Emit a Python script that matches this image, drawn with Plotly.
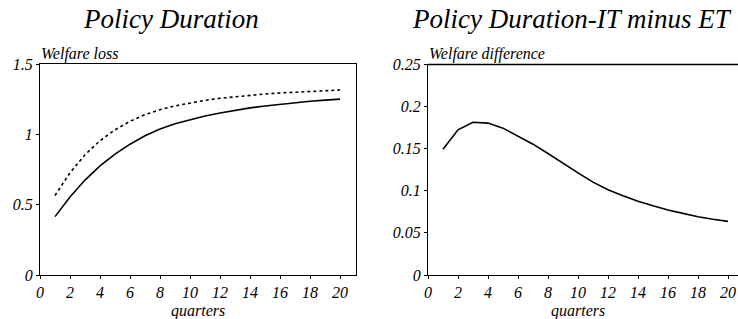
import plotly.graph_objects as go

quarters = list(range(1, 21))
loss_et = [0.415, 0.555, 0.675, 0.775, 0.86, 0.93, 0.99, 1.038, 1.075, 1.105,
           1.13, 1.152, 1.171, 1.188, 1.202, 1.214, 1.225, 1.235, 1.243, 1.25]
loss_it = [0.565, 0.727, 0.855, 0.955, 1.032, 1.093, 1.14, 1.175, 1.202, 1.224,
           1.242, 1.256, 1.268, 1.278, 1.287, 1.294, 1.30, 1.305, 1.31, 1.315]
welfare_diff = [0.149, 0.172, 0.181, 0.180, 0.174, 0.165, 0.155, 0.144, 0.132, 0.121,
                0.110, 0.101, 0.094, 0.0875, 0.082, 0.077, 0.073, 0.069, 0.066, 0.0635]

left_yticks = [0, 0.5, 1, 1.5]
right_yticks = [0, 0.05, 0.1, 0.15, 0.2, 0.25]
xticks = list(range(0, 21, 2))

W, H = 738, 319
FONT = "Liberation Serif"

def px_x(p):
    return p / W

def px_y(p):
    return 1 - p / H

fig = go.Figure()
fig.add_trace(go.Scatter(x=quarters, y=loss_it, mode="lines",
                         line=dict(color="black", width=1.6, dash="3px,3px"),
                         xaxis="x", yaxis="y", showlegend=False))
fig.add_trace(go.Scatter(x=quarters, y=loss_et, mode="lines",
                         line=dict(color="black", width=1.6),
                         xaxis="x", yaxis="y", showlegend=False))
fig.add_trace(go.Scatter(x=quarters, y=welfare_diff, mode="lines",
                         line=dict(color="black", width=1.6),
                         xaxis="x2", yaxis="y2", showlegend=False))

tickfont = dict(family=FONT, size=16, color="black", style="italic")
common_x = dict(tickvals=xticks, ticks="outside", ticklen=3, tickcolor="black",
                showline=True, linecolor="black", linewidth=1.3, showgrid=False,
                zeroline=False, tickfont=tickfont, fixedrange=True, automargin=False)
common_y = dict(ticks="outside", ticklen=3, tickcolor="black",
                showline=True, linecolor="black", linewidth=1.3, showgrid=False,
                zeroline=False, tickfont=tickfont, fixedrange=True, automargin=False)

ydom = [px_y(275), px_y(64)]
fig.update_layout(
    width=W, height=H,
    margin=dict(l=0, r=0, t=0, b=0, autoexpand=False),
    paper_bgcolor="white", plot_bgcolor="white",
    font=dict(family=FONT, color="black"),
    xaxis=dict(domain=[px_x(40), px_x(355.5)], range=[0, 21.03], mirror=True,
               anchor="y", **common_x),
    yaxis=dict(domain=ydom, range=[0, 1.5], tickvals=left_yticks, mirror=True,
               anchor="x", **common_y),
    xaxis2=dict(domain=[px_x(428), 1.0], range=[0, 310 / 15], anchor="y2", **common_x),
    yaxis2=dict(domain=ydom, range=[0, 0.25], tickvals=right_yticks, anchor="x2",
                **common_y),
    shapes=[dict(type="line", xref="paper", yref="paper", x0=px_x(428), x1=1.0,
                 y0=px_y(64.5), y1=px_y(64.5), line=dict(color="black", width=1.3))],
)

ann_font_big = dict(family=FONT, size=27, color="black", style="italic")
ann_font_small = dict(family=FONT, size=16, color="black", style="italic")
annotations = [
    dict(text="Policy Duration", x=px_x(171), y=px_y(19), font=ann_font_big),
    dict(text="Policy Duration-IT minus ET", x=px_x(572), y=px_y(19), font=ann_font_big),
    dict(text="Welfare loss", x=px_x(39), y=px_y(54), xanchor="left", font=ann_font_small),
    dict(text="Welfare difference", x=px_x(427), y=px_y(54), xanchor="left", font=ann_font_small),
    dict(text="quarters", x=px_x(198), y=px_y(311), font=ann_font_small),
    dict(text="quarters", x=px_x(578), y=px_y(311), font=ann_font_small),
]
for a in annotations:
    a.update(xref="paper", yref="paper", showarrow=False)
    if "xanchor" not in a:
        a["xanchor"] = "center"
    a["yanchor"] = "middle"
fig.update_layout(annotations=annotations)

fig.write_html("out.html", config={"displayModeBar": False},
               post_script="document.body.style.margin='0';document.body.style.overflow='hidden';")
